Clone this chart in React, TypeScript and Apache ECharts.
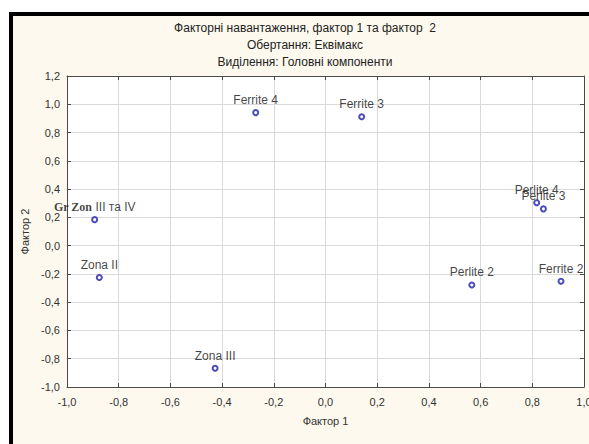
import React, { useEffect, useRef } from "react";
import * as echarts from "echarts";

const pointNames = [
  "Ferrite 4",
  "Ferrite 3",
  "Zona III",
  "Gr Zon III та IV",
  "Zona II",
  "Perlite 2",
  "Ferrite 2",
  "Perlite 4",
  "Perlite 3",
];
const factor1 = [-0.27, 0.14, -0.427, -0.893, -0.875, 0.566, 0.911, 0.817, 0.843];
const factor2 = [0.941, 0.912, -0.867, 0.184, -0.226, -0.278, -0.252, 0.304, 0.26];

const titleLines = [
  "Факторні навантаження, фактор 1 та фактор  2",
  "Обертання: Еквімакс",
  "Виділення: Головні компоненти",
];
const xAxisName = "Фактор 1";
const yAxisName = "Фактор 2";
const xRange = [-1, 1];
const yRange = [-1, 1.2];
const tickStep = 0.2;

const FONT = "'Liberation Sans', Arial, sans-serif";
const fmt = (v: number) => v.toFixed(1).replace(".", ",");

export default function App() {
  const ref = useRef<HTMLDivElement>(null);
  useEffect(() => {
    if (!ref.current) return;
    const chart = echarts.init(ref.current, undefined, { renderer: "svg" });
    const axisLine = { show: true, onZero: false, lineStyle: { color: "#4a4a4a", width: 1 } };
    const axisTick = { show: true, inside: true, length: 4, lineStyle: { color: "#4a4a4a" } };
    const splitLine = { show: true, lineStyle: { color: "#d9d9d9", width: 1 } };
    chart.setOption({
      animation: false,
      backgroundColor: "transparent",
      title: {
        text: titleLines.join("\n"),
        left: 305,
        top: 20,
        textAlign: "center",
        padding: 0,
        textStyle: {
          fontFamily: FONT,
          fontSize: 12,
          fontWeight: "normal",
          color: "#222",
          lineHeight: 16.7,
        },
      },
      grid: {
        left: 67,
        right: 5,
        top: 76,
        bottom: 57,
        show: true,
        backgroundColor: "#ffffff",
        borderWidth: 0,
        containLabel: false,
        outerBoundsMode: "none",
      },
      xAxis: [
        {
          type: "value",
          min: xRange[0],
          max: xRange[1],
          interval: tickStep,
          position: "bottom",
          name: xAxisName,
          nameLocation: "middle",
          nameGap: 28,
          nameTextStyle: { fontFamily: FONT, fontSize: 11, color: "#333" },
          axisLine,
          axisTick,
          splitLine,
          axisLabel: {
            formatter: fmt,
            fontFamily: FONT,
            fontSize: 11,
            color: "#333",
            margin: 9,
            showMinLabel: true,
            showMaxLabel: true,
          },
        },
        {
          type: "value",
          min: xRange[0],
          max: xRange[1],
          interval: tickStep,
          position: "top",
          axisLine,
          axisTick,
          splitLine: { show: false },
          axisLabel: { show: false },
        },
      ],
      yAxis: [
        {
          type: "value",
          min: yRange[0],
          max: yRange[1],
          interval: tickStep,
          position: "left",
          name: yAxisName,
          nameLocation: "middle",
          nameGap: 36,
          nameRotate: 90,
          nameTextStyle: { fontFamily: FONT, fontSize: 11, color: "#333" },
          axisLine,
          axisTick,
          splitLine,
          axisLabel: {
            formatter: fmt,
            fontFamily: FONT,
            fontSize: 11,
            color: "#333",
            margin: 7,
            showMinLabel: true,
            showMaxLabel: true,
          },
        },
        {
          type: "value",
          min: yRange[0],
          max: yRange[1],
          interval: tickStep,
          position: "right",
          axisLine,
          axisTick,
          splitLine: { show: false },
          axisLabel: { show: false },
        },
      ],
      series: [
        {
          type: "scatter",
          xAxisIndex: 0,
          yAxisIndex: 0,
          symbol: "emptyCircle",
          symbolSize: 5,
          itemStyle: { color: "#1f1fa6", borderColor: "#1f1fa6", borderWidth: 1.5 },
          data: pointNames.map((n, i) => ({ name: n, value: [factor1[i], factor2[i]] })),
          label: {
            show: true,
            position: "top",
            distance: 3,
            fontFamily: FONT,
            fontSize: 12,
            color: "#111",
            formatter: (p: any) => {
              const n: string = p.name;
              if (n.startsWith("Gr Zon")) return "{s|Gr Zon}" + n.slice(6);
              return n;
            },
            rich: {
              s: {
                fontFamily: "'Liberation Serif', 'Times New Roman', serif",
                fontWeight: "bold",
                fontSize: 12,
                color: "#111",
              },
            },
          },
          z: 10,
        },
      ],
    });
    return () => chart.dispose();
  }, []);

  return (
    <div
      style={{
        position: "fixed",
        left: 0,
        top: 0,
        width: 589,
        height: 444,
        background: "#ffffff",
        overflow: "hidden",
      }}
    >
      <div
        style={{
          position: "absolute",
          left: 9,
          top: 12,
          right: 0,
          bottom: 0,
          background: "#FDF9EE",
          borderLeft: "4px solid #000",
          borderTop: "4px solid #000",
        }}
      />
      <div ref={ref} style={{ position: "absolute", left: 0, top: 0, width: 589, height: 444 }} />
    </div>
  );
}
